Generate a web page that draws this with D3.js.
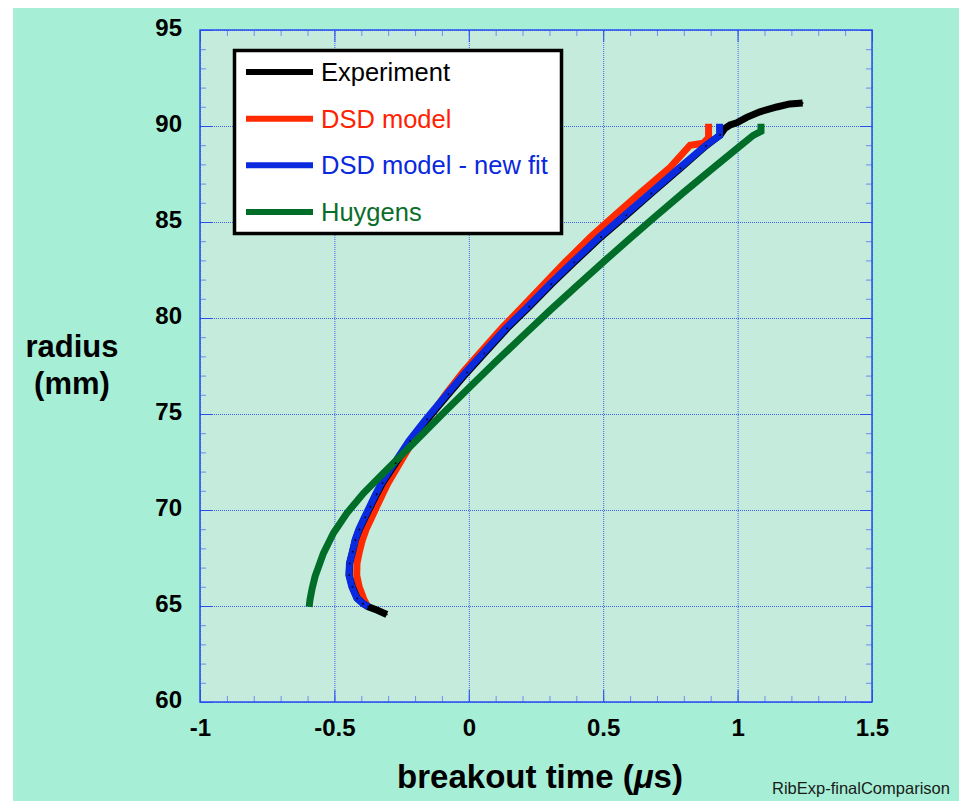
<!DOCTYPE html>
<html>
<head>
<meta charset="utf-8">
<script src="https://cdn.jsdelivr.net/npm/d3@7"></script>
<style>
body { margin: 0; background: #fff; }
text { font-family: "Liberation Sans", Arial, Helvetica, sans-serif; }
</style>
</head>
<body>
<div id="chart"></div>
<script>
// values: breakout time (us) vs radius (mm)
var expTime = [-0.305, -0.340, -0.374, -0.393, -0.415, -0.433, -0.445, -0.443, -0.432, -0.422,
    -0.407, -0.385, -0.366, -0.343, -0.321, -0.272, -0.218, -0.155, -0.076, -0.006,
    0.058, 0.143, 0.225, 0.307, 0.392, 0.492, 0.586, 0.679, 0.787, 0.882,
    0.935, 0.953, 0.972, 0.997, 1.034, 1.083, 1.146, 1.194, 1.242];
var expRadius = [64.56, 64.78, 64.96, 65.12, 65.40, 66.00, 66.61, 67.22, 67.83, 68.44,
    68.99, 69.62, 70.17, 70.82, 71.40, 72.44, 73.59, 74.72, 76.03, 77.17,
    78.16, 79.46, 80.59, 81.76, 82.90, 84.22, 85.35, 86.49, 87.80, 88.96,
    89.53, 89.88, 90.05, 90.17, 90.45, 90.74, 90.99, 91.15, 91.20];

var dsdTime = [-0.374, -0.382, -0.392, -0.408, -0.417, -0.416, -0.407, -0.396, -0.382, -0.361,
    -0.343, -0.321, -0.301, -0.257, -0.208, -0.152, -0.086, -0.022, 0.040, 0.122,
    0.200, 0.280, 0.358, 0.453, 0.543, 0.636, 0.746, 0.823, 0.872, 0.892, 0.892];
var dsdRadius = [64.96, 65.12, 65.40, 66.00, 66.61, 67.22, 67.83, 68.44, 68.99, 69.62,
    70.17, 70.82, 71.40, 72.44, 73.59, 74.72, 76.03, 77.17, 78.16, 79.46,
    80.59, 81.76, 82.90, 84.22, 85.35, 86.49, 87.80, 89.00, 89.10, 89.40, 90.12];

var fitTime = [-0.374, -0.395, -0.417, -0.435, -0.446, -0.444, -0.433, -0.423, -0.409, -0.388,
    -0.369, -0.347, -0.325, -0.277, -0.223, -0.160, -0.082, -0.012, 0.052, 0.137,
    0.219, 0.301, 0.386, 0.486, 0.580, 0.674, 0.782, 0.879, 0.933, 0.933];
var fitRadius = [64.96, 65.14, 65.42, 66.00, 66.61, 67.22, 67.83, 68.44, 68.99, 69.62,
    70.17, 70.82, 71.40, 72.44, 73.59, 74.72, 76.03, 77.17, 78.16, 79.46,
    80.59, 81.76, 82.90, 84.22, 85.35, 86.49, 87.80, 88.96, 89.50, 90.12];

var huyTime = [-0.594, -0.591, -0.583, -0.572, -0.541, -0.504, -0.454, -0.392, -0.318, -0.231,
    -0.100, 0.000, 0.100, 0.200, 0.300, 0.400, 0.500, 0.600, 0.700, 0.800,
    0.900, 1.000, 1.058, 1.087, 1.087];
var huyRadius = [64.95, 65.31, 65.90, 66.53, 67.74, 68.79, 69.83, 70.87, 71.91, 73.13,
    74.97, 76.35, 77.72, 79.05, 80.37, 81.65, 82.91, 84.15, 85.36, 86.55,
    87.71, 88.85, 89.51, 89.72, 90.12];

var xTicks = [-1, -0.5, 0, 0.5, 1, 1.5];
var yTicks = [60, 65, 70, 75, 80, 85, 90, 95];
var legendLabels = ["Experiment", "DSD model", "DSD model - new fit", "Huygens"];
var lineColors = ["#000000", "#ff2a00", "#0a2ae0", "#006e28"];
var textColors = ["#000000", "#ff2200", "#0a28dd", "#0a6e2a"];

var width = 959;
var height = 801;

var x = d3.scaleLinear().domain([-1, 1.5]).range([200, 872]);
var y = d3.scaleLinear().domain([60, 95]).range([702, 30]);

var svg = d3.select("#chart")
    .append("svg")
    .attr("width", width)
    .attr("height", height);

// mint page + lighter plot area
svg.append("rect").attr("x", 13).attr("y", 8)
    .attr("width", width - 13).attr("height", height - 8)
    .attr("fill", "#a6efd6");
svg.append("rect").attr("x", x(-1)).attr("y", y(95))
    .attr("width", x(1.5) - x(-1)).attr("height", y(60) - y(95))
    .attr("fill", "#c5ebdc");

// dotted grid
var grid = svg.append("g");
grid.append("g")
    .attr("transform", "translate(0," + y(60) + ")")
    .call(d3.axisBottom(x).tickValues(xTicks).tickSize(-(y(60) - y(95))).tickFormat(""))
    .call(g => g.select(".domain").remove());
grid.append("g")
    .attr("transform", "translate(" + x(-1) + ",0)")
    .call(d3.axisLeft(y).tickValues(yTicks).tickSize(-(x(1.5) - x(-1))).tickFormat(""))
    .call(g => g.select(".domain").remove());
grid.selectAll("line")
    .attr("stroke", "#3f62f2")
    .attr("stroke-width", 1)
    .attr("stroke-dasharray", "1,1");

// inward ticks on all four sides
var xMinor = d3.range(-10, 16).map(d => d / 10);
var yMinor = d3.range(60, 96);

function tickAxis(axis, tr, vals, size, color) {
    var g = svg.append("g")
        .attr("transform", tr)
        .call(axis.tickValues(vals).tickSize(size).tickFormat(""));
    g.select(".domain").remove();
    g.selectAll("line").attr("stroke", color).attr("stroke-width", 1);
}
tickAxis(d3.axisBottom(x), "translate(0," + y(60) + ")", xMinor, -6, "#6f8cf0");
tickAxis(d3.axisTop(x), "translate(0," + y(95) + ")", xMinor, -6, "#6f8cf0");
tickAxis(d3.axisLeft(y), "translate(" + x(-1) + ",0)", yMinor, -6, "#6f8cf0");
tickAxis(d3.axisRight(y), "translate(" + x(1.5) + ",0)", yMinor, -6, "#6f8cf0");
tickAxis(d3.axisBottom(x), "translate(0," + y(60) + ")", xTicks, -12, "#2a4ff0");
tickAxis(d3.axisTop(x), "translate(0," + y(95) + ")", xTicks, -12, "#2a4ff0");
tickAxis(d3.axisLeft(y), "translate(" + x(-1) + ",0)", yTicks, -12, "#2a4ff0");
tickAxis(d3.axisRight(y), "translate(" + x(1.5) + ",0)", yTicks, -12, "#2a4ff0");

// frame
svg.append("rect").attr("x", x(-1)).attr("y", y(95))
    .attr("width", x(1.5) - x(-1)).attr("height", y(60) - y(95))
    .attr("fill", "none")
    .attr("stroke", "#2a4ff0")
    .attr("stroke-width", 1.5);

// tick labels
var xLab = svg.append("g")
    .attr("transform", "translate(0," + y(60) + ")")
    .call(d3.axisBottom(x).tickValues(xTicks).tickSize(0).tickPadding(17).tickFormat(d => String(d)));
xLab.select(".domain").remove();
var yLab = svg.append("g")
    .attr("transform", "translate(" + x(-1) + ",0)")
    .call(d3.axisLeft(y).tickValues(yTicks).tickSize(0).tickPadding(18).tickFormat(d => String(d)));
yLab.select(".domain").remove();
svg.selectAll(".tick text")
    .attr("font-family", "'Liberation Sans', Arial, sans-serif")
    .attr("font-size", 24)
    .attr("font-weight", "bold")
    .attr("fill", "#000");
yLab.selectAll("text").attr("dy", "0.24em");

// axis titles
var xTitle = svg.append("text")
    .attr("x", 540).attr("y", 788)
    .attr("text-anchor", "middle")
    .attr("font-size", 33).attr("font-weight", "bold");
xTitle.append("tspan").text("breakout time (");
xTitle.append("tspan").attr("font-style", "italic").text("\u03bc");
xTitle.append("tspan").text("s)");

svg.append("text").attr("x", 72).attr("y", 357)
    .attr("text-anchor", "middle")
    .attr("font-size", 31).attr("font-weight", "bold")
    .text("radius");
svg.append("text").attr("x", 72).attr("y", 394)
    .attr("text-anchor", "middle")
    .attr("font-size", 31).attr("font-weight", "bold")
    .text("(mm)");

svg.append("text").attr("x", 772).attr("y", 794)
    .attr("font-size", 16.5).attr("fill", "#1a1a1a")
    .text("RibExp-finalComparison");

// curves
var line = d3.line().x(d => x(d[0])).y(d => y(d[1]));
function pairs(t, r) { return t.map((v, i) => [v, r[i]]); }

var series = [
    { data: pairs(dsdTime, dsdRadius), color: lineColors[1] },
    { data: pairs(expTime, expRadius), color: lineColors[0] },
    { data: pairs(fitTime, fitRadius), color: lineColors[2] },
    { data: pairs(huyTime, huyRadius), color: lineColors[3] }
];

svg.append("g").selectAll("path")
    .data(series)
    .enter()
    .append("path")
    .attr("d", d => line(d.data))
    .attr("fill", "none")
    .attr("stroke", d => d.color)
    .attr("stroke-width", 7)
    .attr("stroke-linejoin", "miter")
    .attr("stroke-linecap", "butt");

// experiment data points show as tiny dots on top
svg.append("g").selectAll("circle")
    .data(pairs(expTime, expRadius))
    .enter()
    .append("circle")
    .attr("cx", d => x(d[0]))
    .attr("cy", d => y(d[1]))
    .attr("r", 0.9)
    .attr("fill", "#000");

// legend
var legend = svg.append("g");
legend.append("rect")
    .attr("x", 234.5).attr("y", 50.5)
    .attr("width", 327).attr("height", 183)
    .attr("fill", "#fff")
    .attr("stroke", "#000")
    .attr("stroke-width", 3.5);

var rowY = d3.scalePoint().domain(legendLabels).range([72, 212]);
legendLabels.forEach(function (lab, i) {
    legend.append("line")
        .attr("x1", 246).attr("x2", 313)
        .attr("y1", rowY(lab)).attr("y2", rowY(lab))
        .attr("stroke", lineColors[i])
        .attr("stroke-width", 6);
    legend.append("text")
        .attr("x", 321).attr("y", rowY(lab) + 9)
        .attr("font-size", 25.5)
        .attr("fill", textColors[i])
        .text(lab);
});
</script>
</body>
</html>
